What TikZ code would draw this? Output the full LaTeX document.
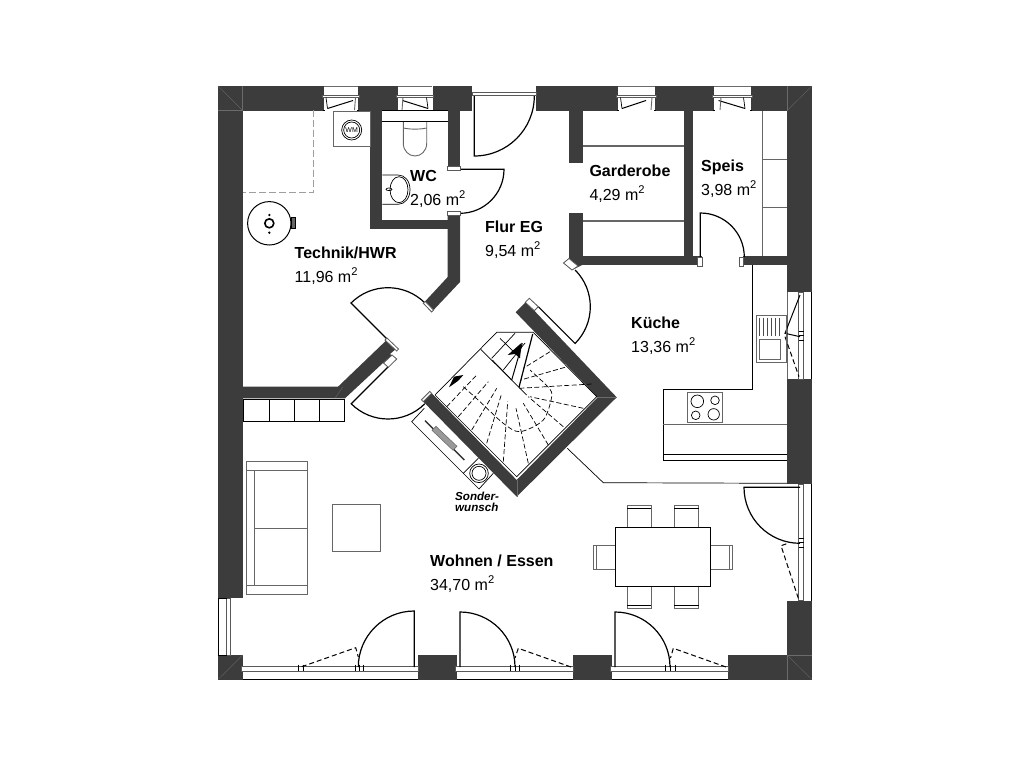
\documentclass[tikz,border=0pt]{standalone}
\usepackage{fontspec}
\setmainfont{Liberation Sans}
\definecolor{wallgray}{HTML}{3C3C3C}
\begin{document}
\begin{tikzpicture}
[x=1pt,y=-1pt,
  walldecorate/.style={fill=wallgray,draw=none},%
  seamdecorate/.style={draw=black!58,line width=0.3pt},%
  framedecorate/.style={draw=black!65,fill=white,line width=0.8pt},%
  thinedge/.style={draw=black,line width=0.7pt},%
  furnedge/.style={draw=black!60,line width=0.9pt},%
  leafdecorate/.style={draw=black,line width=1.2pt},%
  sashdecorate/.style={draw=black,line width=1pt},%
  sashdashed/.style={draw=black,line width=1pt,dash pattern=on 5pt off 3pt},%
  treaddecorate/.style={draw=black,line width=0.7pt,dash pattern=on 5pt off 2.5pt},%
  roomname/.style={anchor=base west,inner sep=0pt,font=\fontsize{16}{18}\selectfont\bfseries},%
  roomarea/.style={anchor=base west,inner sep=0pt,font=\fontsize{16}{18}\selectfont}]
\useasboundingbox (0,0) rectangle (1025,771);
%% outer and straight inner walls
\foreach \xa/\ya/\xb/\yb in {218/86/324/110.5, 358/86/398/110.5, 432.5/86/472/110.5,
  536/86/618/110.5, 655/86/714/110.5, 751/86/812/110.5,
  218/86/242.7/598, 218/655/242.7/679.5, 418.3/655/456.7/679.5, 573.3/655/611.7/679.5,
  728.3/655/812/679.5, 787/86/812/292, 787/379/812/484, 787/600.7/812/679.5,
  370.3/110/382.3/229, 370.3/220.3/460/229, 447.7/110/460/169, 569.3/110/582.7/163.3,
  569.3/213.3/582.7/265, 569.3/255.7/702/265, 684/110/693.3/256, 743/255.7/787/265} {
  \fill[walldecorate] (\xa,\ya) rectangle (\xb,\yb);
}
%% angled walls
\fill[walldecorate] (447.7,212) -- (460,212) -- (460,282) -- (431.7,312) -- (423.3,303.3) -- (447.7,277) -- cycle;
\fill[walldecorate] (243,386.7) -- (338,386.7) -- (386.7,340) -- (396.7,348.3) -- (390,354) -- (396.7,359)
  -- (388.3,367.3) -- (383.3,362.7) -- (345,398.3) -- (243,398.3) -- cycle;
\fill[walldecorate] (515.7,312.3) -- (529.3,298.3) -- (538.3,306.7) -- (534.3,310.7) -- (616.7,397.3)
  -- (516.7,496.7) -- (423.3,401.7) -- (431.7,393.3) -- (516.7,480) -- (597.7,397.3) -- cycle;
\fill[walldecorate] (563.5,263) -- (572,255.7) -- (582,265) -- (572,270) -- cycle;
%% corner seams
\foreach \xa/\ya/\xb/\yb in {218/86/242.7/110.5, 812/86/787/110.5, 218/679.5/242.7/655, 812/679.5/787/655,
  242/86/242/110.5, 218/110.5/243/110.5, 787/86/787/110.5, 343/386.7/335/398.3, 516.7/480/516.7/496.7,
  597.7/397.3/616.7/397.3, 787/655/812/655, 787/655/787/679.5} {
  \draw[seamdecorate] (\xa,\ya) -- (\xb,\yb);
}
%% top windows
\foreach \xa/\xb/\xc/\xd in {324/358/327.5/353, 398/432/428/402.5, 618/655/622/646, 714/751/745/718.5} {
  \draw[seamdecorate] (\xa,86) -- (\xb,86);
  \draw[framedecorate] (\xa-1.5,95) rectangle (\xb+1,97.5);
  \draw[thinedge] (\xa-1.5,110.5) -- (\xa+1,110.5) (\xb-1,110.5) -- (\xb+1,110.5);
  \draw[thinedge] (\xc-1.5,97.5) -- (\xc,108.5);
  \draw[sashdecorate] (\xc,108.5) -- (\xd,100.5);
  \draw[furnedge] (\xa+\xb-\xc+1,97.5) -- (\xa+\xb-\xc,110);
}
%% entrance door frame
\draw[framedecorate] (472,92) rectangle (536,95.5);
%% bottom, right and left glazing
\foreach \xa/\xb in {241/418.3, 455/573.3, 610.7/728.3} {
  \draw[framedecorate] (\xa,666.7) rectangle (\xb,671.2);
}
\draw[thinedge] (242.7,679.3) -- (418.3,679.3) (456.7,679.3) -- (573.3,679.3) (611.7,679.3) -- (728.3,679.3);
\foreach \xa in {298.5,303,355,359,363,510.7,515,519.3,665.7,670,675} {
  \draw[thinedge] (\xa,664.7) -- (\xa,671.2);
}
\foreach \ya/\yb in {292/379, 484/600.7} {
  \draw[framedecorate] (798.5,\ya) rectangle (803,\yb);
  \draw[thinedge] (811.3,\ya) -- (811.3,\yb);
}
\draw[furnedge] (787.5,292) -- (787.5,379);
\foreach \ya in {331.5,335,340,538,542,547} {
  \draw[thinedge] (798.5,\ya) -- (804,\ya);
}
\draw[framedecorate] (226.7,598) rectangle (230.7,655);
\draw[thinedge] (218.3,598) -- (218.3,655) (218,598) -- (227,598) (218,655) -- (227,655);
%% door leaves with swing
\foreach \hx/\hy/\sa/\ea/\rad in {388/340/225/315/52.3, 388/367/135/45/52, 538.3/306.7/45/-45/52,
  460/169.3/0/90/44, 474.3/96/90/0/60, 700.3/257/-90/0/44, 800/487.3/180/90/56,
  414.3/667/-90/-180/56, 460/667/-90/0/55, 615/667/-90/0/55} {
  \draw[leafdecorate] (\hx,\hy) -- ++(\sa:\rad) arc[start angle=\sa,end angle=\ea,radius=\rad];
}
%% door frame caps
\foreach \xa/\ya/\xb/\yb in {447.3/166.5/460/170, 447.3/211.7/460/215.5, 697/257/702/266, 743/257/739/266} {
  \draw[framedecorate] (\xa,\ya) rectangle (\xb,\yb);
}
\draw[framedecorate] (423.3,303.3) -- (431.7,312) -- (433.5,310) -- (425.2,301.5) -- cycle;
\draw[framedecorate] (383.5,363) -- (388.3,367.3) -- (396.7,359) -- (392,355) -- cycle;
\draw[framedecorate] (385,340) -- (396.7,351) -- (398.5,349) -- (387,338) -- cycle;
\draw[framedecorate] (423.3,401.7) -- (431.7,393.3) -- (429.8,391.5) -- (421.5,399.8) -- cycle;
\draw[framedecorate] (529.3,298.3) -- (538.3,306.7) -- (534.3,310.7) -- (525.3,302.3) -- cycle;
\draw[framedecorate] (563.5,263) -- (572,270) -- (578,266) -- (569,258.5) -- cycle;
%% opened sashes, dashed
\foreach \xa/\ya/\xb/\yb/\xc/\yc in {301.7/666.7/355.7/647.7/358.3/657, 571/667/518.3/648.3/515/658,
  726/667/673.3/648.3/670.5/658, 798.3/598.3/781/545.7/788/543.3} {
  \draw[sashdashed] (\xa,\ya) -- (\xb,\yb) -- (\xc,\yc);
}
\draw[sashdecorate] (800,295) -- (785,333.3) -- (800,336.7);
\draw[sashdashed] (785,336.7) -- (799,376.7);
%% Technik/HWR and WC fittings
\draw[draw=black!38,line width=1.5pt,dash pattern=on 7pt off 3pt] (313.3,110) -- (313.3,192.7) -- (243,192.7);
\draw[furnedge,fill=white] (333.3,111.7) rectangle (370,146.7);
\draw[thinedge] (351.7,130) circle[radius=10] (351.7,130) circle[radius=8];
\node (wmlabel) at (351.7,130) [inner sep=0pt,font=\fontsize{7}{7}\selectfont] {WM};
\draw[thinedge,line width=1pt] (269.3,223.3) circle[radius=21.7];
\draw[thinedge,line width=1.6pt] (269.3,223.3) circle[radius=4.5];
\fill (269.3,215) circle[radius=1.3] (269.3,232.7) circle[radius=1.3];
\draw[thinedge,fill=black!60,line width=1pt] (291,217.3) rectangle (295.5,228.3);
\draw[thinedge] (382.3,121.7) -- (447.7,121.7) (382.3,110.7) -- (447.7,110.7);
\draw[line width=1pt] (435,121.7) -- (447.7,121.7);
\draw[furnedge] (403.3,122) -- (403.3,143.3) .. controls (403.3,151) and (409,156) .. (415,156)
  .. controls (421,156) and (426.7,151) .. (426.7,143.3) -- (426.7,122);
\draw[furnedge] (403.3,128) .. controls (410,129.5) and (420,129.5) .. (426.7,128);
\draw[thinedge] (382.3,175) -- (398,175) .. controls (405,175) and (410,181) .. (410,189.7)
  .. controls (410,198) and (405,204.3) .. (398,204.3) -- (382.3,204.3);
\draw[thinedge] (399,189.7) ellipse[x radius=9,y radius=13];
\draw[thinedge] (389,189.3) ellipse[x radius=3,y radius=1.3];
%% Garderobe and Speis shelves
\foreach \ya in {146,221} {
  \draw[furnedge,line width=1.2pt] (583,\ya) -- (684,\ya);
}
\draw[furnedge] (762.7,111) -- (762.7,256);
\draw[furnedge] (762.7,159.3) -- (787,159.3) (762.7,207) -- (787,207);
%% kitchen
\draw[thinedge] (752.3,265) -- (752.3,389.3) -- (663.3,389.3) -- (663.3,460.3) -- (787,460.3);
\draw[thinedge] (663.3,454.3) -- (787,454.3);
\draw[furnedge] (663.3,424.3) -- (787,424.3);
\draw[furnedge] (756.7,315) rectangle (786.7,362.3);
\draw[furnedge] (759.3,339.3) rectangle (780.7,359.3);
\foreach \xa in {759.5,763.5,767.5,771.5,775.5,779.5} {
  \draw[thinedge,draw=black!70] (\xa,317.5) -- (\xa,335.5);
}
\draw[furnedge,line width=1.1pt] (687.7,392.3) rectangle (722.3,422.3);
\foreach \xa/\ya/\rad in {697.3/401.3/6.3, 715/400.3/4.3, 695.7/415.3/4.3, 713.7/414.3/5.7} {
  \draw[thinedge] (\xa,\ya) circle[radius=\rad];
}
\draw[thinedge] (567.3,448.3) -- (603.3,482.7) -- (787,483.3);
%% bench, sofa and low table
\draw[thinedge] (243.3,399) rectangle (344.3,421.3);
\foreach \xa in {269.3,294.3,319.3} {
  \draw[thinedge] (\xa,399) -- (\xa,421.3);
}
\draw[furnedge] (246,461.3) rectangle (307.3,594.3);
\draw[furnedge] (246,470.3) -- (307.3,470.3) (246,585.3) -- (307.3,585.3) (254.7,470.3) -- (254.7,585.3) (254.7,528) -- (307.3,528);
\draw[furnedge] (332.3,504) rectangle (380.3,551.7);
%% dining table and chairs
\foreach \xa/\ya/\xb/\yb/\xc/\yc/\xd/\yd in {627.3/527.3/627.3/505.3/651.3/505.3/651.3/527.3,
  674.3/527.3/674.3/505.3/698.7/505.3/698.7/527.3, 627.3/586.3/627.3/608.3/651.3/608.3/651.3/586.3,
  674.3/586.3/674.3/608.3/698.7/608.3/698.7/586.3, 615.3/545/593.3/545/593.3/569/615.3/569,
  710.3/545/732.7/545/732.7/569/710.3/569} {
  \draw[furnedge] (\xa,\ya) -- (\xb,\yb) -- (\xc,\yc) -- (\xd,\yd);
}
\draw[thinedge] (627.3,508) -- (651.3,508) (674.3,508) -- (698.7,508) (627.3,605.3) -- (651.3,605.3) (674.3,605.3) -- (698.7,605.3);
\draw[furnedge] (596,545) -- (596,569) (729.7,545) -- (729.7,569);
\draw[thinedge,fill=white] (615.3,527.3) rectangle (710.3,586.3);
%% stairs
\draw[thinedge] (435,395) -- (496.7,332.3) -- (533.3,332.3) -- (596.7,396.7) -- (516.7,476.7) -- (435,395);
\draw[thinedge] (480.7,349.3) -- (526.7,395);
\draw[thinedge] (491.7,358.3) -- (515,333.3) (503.3,370) -- (525,343) (500,338.3) -- (520,358) (511.7,380) -- (492.3,360);
\draw[sashdecorate,line width=1.2pt] (532.7,334) -- (519,387.3);
\draw[sashdecorate] (522.3,343.3) -- (511.7,380);
\fill (521.7,342.7) -- (520,357.7) -- (515,354) -- (507.7,355) -- cycle;
\fill (449,387.3) -- (454,376.7) -- (463.3,375) -- (458.3,380.7) -- cycle;
\foreach \xa/\ya/\xb/\yb in {446.7/406.7/476.7/375, 458.3/416.7/488.3/381.7, 471.7/430/496.7/388.3,
  486.7/443.3/501.7/393.3, 503.3/461.7/507.7/401.7, 528.3/463.3/516/408.3, 548.3/445/523.3/403.3,
  563.3/426.7/528.3/396.7, 583.3/408.3/530/396.7, 591.7/384/519.3/388.3, 565/367.3/520.7/380, 550/351.7/523.3/368.3} {
  \draw[treaddecorate] (\xa,\ya) -- (\xb,\yb);
}
\draw[treaddecorate] plot[smooth] coordinates {(463.3,386.7) (480,401.7) (503.3,423.3) (520,431.7) (543.3,420) (551.7,396.7) (548.3,387.3) (530,370)};
%% cabinet beside the stairs
\draw[thinedge] (424.3,408.3) -- (411.7,421.7) -- (463.3,473.3) -- (478.3,458.3);
\draw[thinedge] (463.3,473.3) -- (479,489) -- (493.3,473.3);
\draw[thinedge] (479,473.3) circle[radius=9.3] (479,473.3) circle[radius=7];
\draw[line width=1.4pt,black!80] (425,420.7) -- (464.3,460);
\draw[furnedge,fill=black!40,line width=0.5pt] (436,426.3) -- (457,446.3) -- (453,450.3) -- (432,430.3) -- cycle;
%% room labels
\foreach \nodename/\x/\y/\txt in {technikname/294.5/258/{Technik/HWR}, wcname/410/181.7/WC, flurname/485/232/Flur EG,
  garderobename/589.3/176.7/Garderobe, speisname/701/171.7/Speis, kuechename/631/328/Küche, wohnenname/430/566/{Wohnen / Essen}} {
  \node (\nodename) at (\x,\y) [roomname] {\txt};
}
\foreach \nodename/\x/\y/\txt in {technikarea/294.5/282/{11,96}, wcarea/410/205/{2,06}, flurarea/485/256/{9,54},
  garderobearea/589.3/200/{4,29}, speisarea/701/195/{3,98}, kuechearea/631/352/{13,36}, wohnenarea/430/590/{34,70}} {
  \node (\nodename) at (\x,\y) [roomarea] {\txt{} m\textsuperscript{2}};
}
\node (sondername) at (455,500.7) [anchor=base west,inner sep=0pt,font=\fontsize{11.6}{12}\selectfont\bfseries\itshape] {Sonder-};
\node (wunschname) at (455,511.7) [anchor=base west,inner sep=0pt,font=\fontsize{11.6}{12}\selectfont\bfseries\itshape] {wunsch};
\end{tikzpicture}
\end{document}
